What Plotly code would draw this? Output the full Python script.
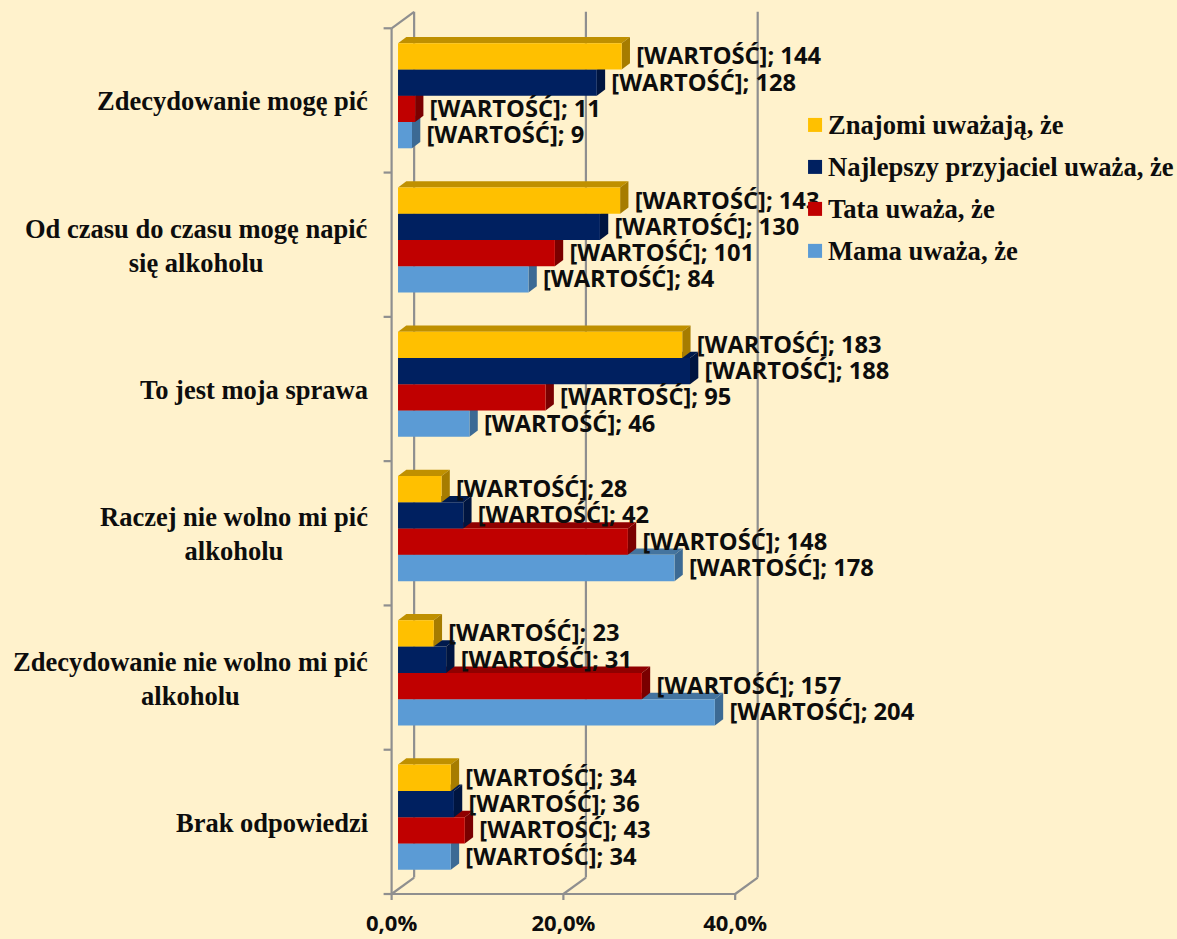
import plotly.graph_objects as go

categories = ["Zdecydowanie mogę pić", "Od czasu do czasu mogę napić<br>się alkoholu", "To jest moja sprawa",
              "Raczej nie wolno mi pić<br>alkoholu", "Zdecydowanie nie wolno mi pić<br>alkoholu", "Brak odpowiedzi"]
znajomi = [144, 143, 183, 28, 23, 34]
przyjaciel = [128, 130, 188, 42, 31, 36]
tata = [11, 101, 95, 148, 157, 43]
mama = [9, 84, 46, 178, 204, 34]
respondents = 553
x_ticks = [0, 20, 40]
x_tick_labels = ["0,0%", "20,0%", "40,0%"]
label_prefix = "[WARTOŚĆ]; "

series = [
    ("Znajomi uważają, że", znajomi, "#FFC000", "#BF9000", "#A67C00"),
    ("Najlepszy przyjaciel uważa, że", przyjaciel, "#002060", "#001A4D", "#001540"),
    ("Tata uważa, że", tata, "#C00000", "#900000", "#7A0000"),
    ("Mama uważa, że", mama, "#5B9BD5", "#44749F", "#3C6A94"),
]

# pixel scale of the axes
PX_X = 8.58
PX_Y = 144.4
L, R, T, B = 383.4, 765, 5, 904.5
x_range = [-(392 - L) / PX_X, (R - 392) / PX_X]
y_range = [5.5 + (B - 894.5) / PX_Y, -0.5 - (28.3 - T) / PX_Y]

base = 6.4 / PX_X
bar_h = 26.3 / PX_Y
depth_x, depth_y = 8.3 / PX_X, 6.3 / PX_Y
wall_x, wall_y = 22.5 / PX_X, 16.5 / PX_Y
group_shift = -4.7 / PX_Y
GREY = "#8F8F8F"
LABEL_FONT = dict(family="Open Sans", size=23.7, color="#0D0D0D", weight=700)
TICK_FONT = dict(family="Open Sans", size=22, color="#0D0D0D", weight=700)
CAT_FONT = dict(family="Liberation Serif", size=26.5, color="#0D0D0D", weight=700)
LEG_FONT = dict(family="Liberation Serif", size=26.6, color="#0D0D0D", weight=700)

fig = go.Figure()
shapes = []


def line(x0, y0, x1, y1):
    shapes.append(dict(type="line", xref="x", yref="y", x0=x0, y0=y0, x1=x1, y1=y1, layer="below",
                       line=dict(color=GREY, width=2.2)))


# walls, axes and tick marks
for t in x_ticks:
    line(t, 5.5, t + wall_x, 5.5 - wall_y)
    line(t + wall_x, 5.5 - wall_y, t + wall_x, -0.5 - wall_y)
    line(t, 5.5, t, 5.5 + 6 / PX_Y)
line(0, -0.5, wall_x, -0.5 - wall_y)
line(0, -0.5, 0, 5.5)
line(0, 5.5, 40, 5.5)
for i in range(7):
    line(-8 / PX_X, i - 0.5, 0, i - 0.5)


def poly(points, color):
    path = "M" + " L".join(f"{a},{b}" for a, b in points) + " Z"
    return dict(type="path", xref="x", yref="y", path=path, fillcolor=color, layer="between",
                line=dict(width=0))


positions = range(len(categories))
# lower bars are drawn first, so that upper front faces and tops cover them
for j, (name, vals, front, top, side) in reversed(list(enumerate(series))):
    for i, v in zip(positions, vals):
        pct = v * 100 / respondents
        yc = i + group_shift + (j - 1.5) * bar_h
        x0, x1 = base, base + pct
        y0, y1 = yc - bar_h / 2, yc + bar_h / 2
        shapes.append(poly([(x0, y0), (x0 + depth_x, y0 - depth_y), (x1 + depth_x, y0 - depth_y), (x1, y0)], top))
        shapes.append(poly([(x1, y0), (x1 + depth_x, y0 - depth_y), (x1 + depth_x, y1 - depth_y), (x1, y1)], side))

for j, (name, vals, front, top, side) in reversed(list(enumerate(series))):
    ys = [i + group_shift + (j - 1.5) * bar_h for i in positions]
    fig.add_trace(go.Bar(name=name, orientation="h", y=ys, x=[v * 100 / respondents for v in vals],
                         base=base, width=bar_h, marker=dict(color=front, line=dict(width=0)),
                         hoverinfo="x+name"))

for j, (name, vals, front, top, side) in enumerate(series):
    ys = [i + group_shift + (j - 1.5) * bar_h + 2 / PX_Y for i in positions]
    fig.add_trace(go.Scatter(mode="text", showlegend=False, hoverinfo="skip", cliponaxis=False,
                             x=[base + v * 100 / respondents + 14.5 / PX_X for v in vals], y=ys,
                             text=[label_prefix + str(v) for v in vals],
                             textposition="middle right", textfont=LABEL_FONT))

annotations = []
for i, c in zip(positions, categories):
    annotations.append(dict(xref="paper", yref="y", x=(370 - L) / (R - L), y=i + 1 / PX_Y, text=c, showarrow=False,
                            xanchor="right", yanchor="middle", align="center", font=CAT_FONT))

# legend, laid out as in the source
for j, (name, vals, front, top, side) in enumerate(series):
    yc = 125 + 42 * j
    shapes.append(dict(type="rect", xref="paper", yref="paper", layer="above",
                       x0=(808 - L) / (R - L), x1=(822 - L) / (R - L),
                       y0=(B - (yc + 7)) / (B - T), y1=(B - (yc - 7)) / (B - T),
                       fillcolor=front, line=dict(width=0)))
    annotations.append(dict(xref="paper", yref="paper", x=(826 - L) / (R - L), y=(B - yc) / (B - T),
                            text=name, showarrow=False, xanchor="left", yanchor="middle", font=LEG_FONT))

fig.update_layout(
    width=1177, height=939, barmode="overlay", showlegend=False,
    paper_bgcolor="#FFF2CC", plot_bgcolor="rgba(0,0,0,0)",
    margin=dict(l=L, r=1177 - R, t=T, b=939 - B, pad=0, autoexpand=False),
    shapes=shapes, annotations=annotations,
    xaxis=dict(range=x_range, tickvals=x_ticks, ticktext=x_tick_labels, showgrid=False, zeroline=False,
               showline=False, ticks="", tickfont=TICK_FONT, ticklabelstandoff=4, automargin=False),
    yaxis=dict(range=y_range, showgrid=False, zeroline=False, showline=False, ticks="", showticklabels=False,
               automargin=False),
)
fig.write_html("out.html", config=dict(displayModeBar=False),
               post_script="document.body.style.margin='0';document.body.style.background='#FFF2CC';")
